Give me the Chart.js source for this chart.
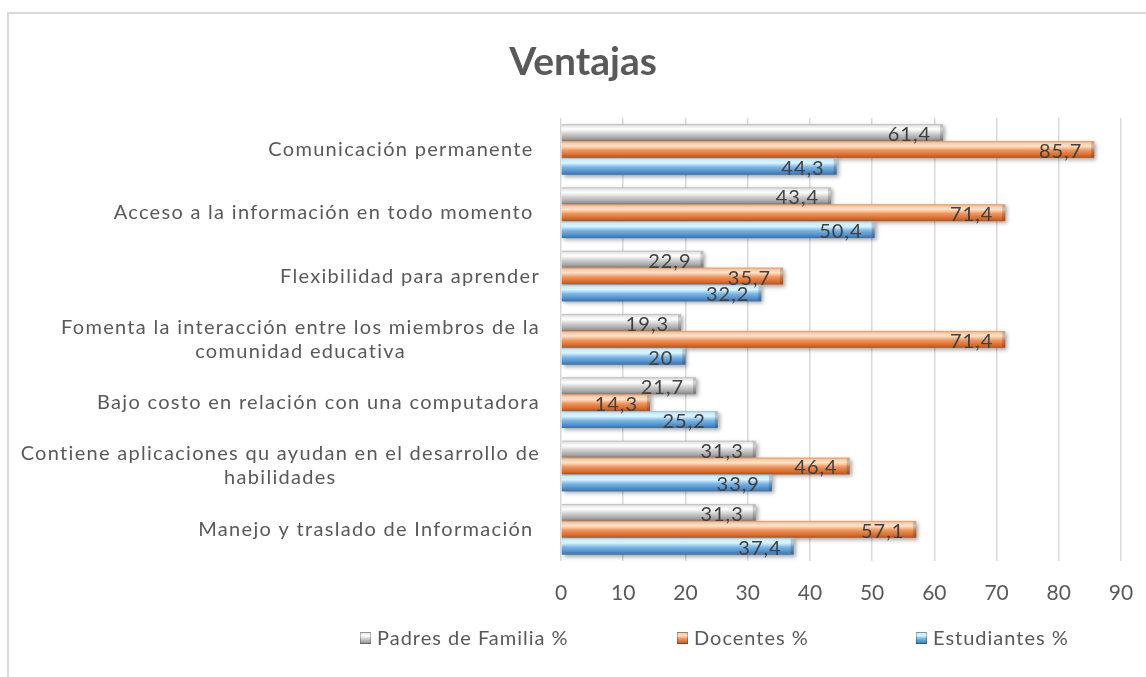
<!DOCTYPE html>
<html>
<head>
<meta charset="utf-8">
<script src="https://cdn.jsdelivr.net/npm/chart.js@4.4.0/dist/chart.umd.min.js"></script>
<style>
  html, body { margin: 0; padding: 0; background: #fff; overflow: hidden; }
  #frame { position: absolute; left: 7px; top: 12px; width: 1200px; height: 720px;
           border-left: 2px solid #d9d9d9; border-top: 2px solid #d9d9d9; }
  #chart { position: absolute; left: 0; top: 0; }
</style>
</head>
<body>
<div id="frame"></div>
<canvas id="chart" width="1146" height="677"></canvas>
<script>
// Chart data
const categories = [
  ['Comunicación permanente '],
  ['Acceso a la información en todo momento '],
  ['Flexibilidad para aprender'],
  ['Fomenta la interacción entre los miembros de la', 'comunidad educativa'],
  ['Bajo costo en relación con una computadora'],
  ['Contiene aplicaciones qu ayudan en el desarrollo de', 'habilidades'],
  ['Manejo y traslado de Información ']
];
const seriesNames = ['Padres de Familia %', 'Docentes %', 'Estudiantes %'];
const padresValues = [61.4, 43.4, 22.9, 19.3, 21.7, 31.3, 31.3];
const docentesValues = [85.7, 71.4, 35.7, 71.4, 14.3, 46.4, 57.1];
const estudiantesValues = [44.3, 50.4, 32.2, 20, 25.2, 33.9, 37.4];
const xMin = 0, xMax = 90, xStep = 10;

// Bar gradients (top -> bottom), Excel-like cylinder look
const gradientStops = [
  [[0, '#b5b5b5'], [0.1, '#e6e6e6'], [0.3, '#ffffff'], [0.55, '#d2d2d2'], [0.85, '#a2a2a2'], [1, '#808080']],
  [[0, '#e58a4d'], [0.1, '#f8c7a0'], [0.3, '#fde4cf'], [0.55, '#f0955a'], [0.85, '#d6692a'], [1, '#b4541c']],
  [[0, '#86b7e0'], [0.1, '#c6ebfa'], [0.3, '#dcf6ff'], [0.55, '#7db6e4'], [0.85, '#4b8bc7'], [1, '#3470aa']]
];
const textColor = '#595959';
const labelColor = '#404040';
const fontFamily = 'Lato, "Open Sans", sans-serif';

function makeGradient(ctx, top, bottom, stops) {
  const g = ctx.createLinearGradient(0, top, 0, bottom);
  stops.forEach(s => g.addColorStop(s[0], s[1]));
  return g;
}

function formatValue(v) {
  return String(v).replace('.', ',');
}

// Draw the bars with a gradient + shadow
const bars3d = {
  id: 'bars3d',
  beforeDatasetsDraw(chart) {
    const ctx = chart.ctx;
    chart.data.datasets.forEach((ds, di) => {
      const meta = chart.getDatasetMeta(di);
      meta.data.forEach(el => {
        const p = el.getProps(['x', 'y', 'base', 'height'], true);
        const top = p.y - p.height / 2;
        const left = Math.min(p.base, p.x);
        const w = Math.abs(p.x - p.base);
        ctx.save();
        ctx.shadowColor = 'rgba(0,0,0,0.35)';
        ctx.shadowBlur = 4;
        ctx.shadowOffsetX = 2;
        ctx.shadowOffsetY = 2;
        ctx.fillStyle = makeGradient(ctx, top, top + p.height, gradientStops[di]);
        ctx.fillRect(left, top, w, p.height);
        ctx.restore();
        // bevelled end cap
        ctx.save();
        ctx.fillStyle = 'rgba(0,0,0,0.18)';
        ctx.fillRect(left + w - 3, top + 1, 3, p.height - 2);
        ctx.restore();
      });
    });
  },
  afterDatasetsDraw(chart) {
    const ctx = chart.ctx;
    ctx.save();
    ctx.font = '20px ' + fontFamily;
    ctx.letterSpacing = '1px';
    ctx.fillStyle = labelColor;
    ctx.textAlign = 'right';
    ctx.textBaseline = 'middle';
    chart.data.datasets.forEach((ds, di) => {
      const meta = chart.getDatasetMeta(di);
      meta.data.forEach((el, i) => {
        const p = el.getProps(['x', 'y'], true);
        ctx.fillText(formatValue(ds.data[i]), p.x - 12, p.y + 2);
      });
    });
    ctx.restore();
  },
  afterDraw(chart) {
    const ctx = chart.ctx;
    const yScale = chart.scales.y;
    const area = chart.chartArea;
    // category labels, centred line by line like Excel
    ctx.save();
    ctx.font = '20px ' + fontFamily;
    ctx.letterSpacing = '1.3px';
    ctx.fillStyle = textColor;
    ctx.textAlign = 'center';
    ctx.textBaseline = 'middle';
    categories.forEach((lines, i) => {
      const yc = yScale.getPixelForValue(i);
      const w = Math.max(...lines.map(l => ctx.measureText(l).width));
      const cx = area.left - 21 - w / 2;
      lines.forEach((line, li) => {
        ctx.fillText(line, cx, yc + (li - (lines.length - 1) / 2) * 24);
      });
    });
    ctx.restore();

    // legend
    const legendX = [360, 677, 916];
    const legendY = 638;
    ctx.save();
    ctx.font = '20px ' + fontFamily;
    ctx.letterSpacing = '1px';
    ctx.textBaseline = 'middle';
    ctx.textAlign = 'left';
    seriesNames.forEach((name, i) => {
      const x = legendX[i];
      ctx.fillStyle = makeGradient(ctx, legendY - 6, legendY + 6, gradientStops[i]);
      ctx.fillRect(x, legendY - 6, 11, 12);
      ctx.strokeStyle = 'rgba(0,0,0,0.25)';
      ctx.lineWidth = 1;
      ctx.strokeRect(x + 0.5, legendY - 5.5, 10, 11);
      ctx.fillStyle = textColor;
      ctx.fillText(name, x + 17, legendY + 1);
    });
    ctx.restore();
  }
};

const ctx = document.getElementById('chart').getContext('2d');
new Chart(ctx, {
  type: 'bar',
  data: {
    labels: categories.map(l => l.join(' ')),
    datasets: [
      { label: seriesNames[0], data: padresValues },
      { label: seriesNames[1], data: docentesValues },
      { label: seriesNames[2], data: estudiantesValues }
    ].map(d => Object.assign(d, {
      backgroundColor: 'rgba(0,0,0,0)',
      borderWidth: 0,
      categoryPercentage: 0.8,
      barPercentage: 1.0
    }))
  },
  options: {
    indexAxis: 'y',
    responsive: false,
    animation: false,
    layout: { padding: { left: 45, right: 25, top: 0, bottom: 0 } },
    plugins: {
      legend: { display: false },
      tooltip: { enabled: false },
      title: {
        display: true,
        text: 'Ventajas',
        color: textColor,
        font: { family: fontFamily, size: 39, weight: 'bold' },
        padding: { top: 39, bottom: 32 }
      }
    },
    scales: {
      x: {
        min: xMin,
        max: xMax,
        ticks: {
          stepSize: xStep,
          color: textColor,
          padding: 20,
          font: { family: fontFamily, size: 21 }
        },
        grid: { color: '#d9d9d9', lineWidth: 1.5, drawTicks: false },
        border: { display: false },
        afterFit(scale) {
          scale.height = 116;
          scale.paddingLeft = 0;
          scale.paddingRight = 0;
        }
      },
      y: {
        ticks: { display: false },
        grid: { display: false },
        border: { display: false },
        afterFit(scale) { scale.width = 516; }
      }
    }
  },
  plugins: [bars3d]
});
</script>
</body>
</html>
